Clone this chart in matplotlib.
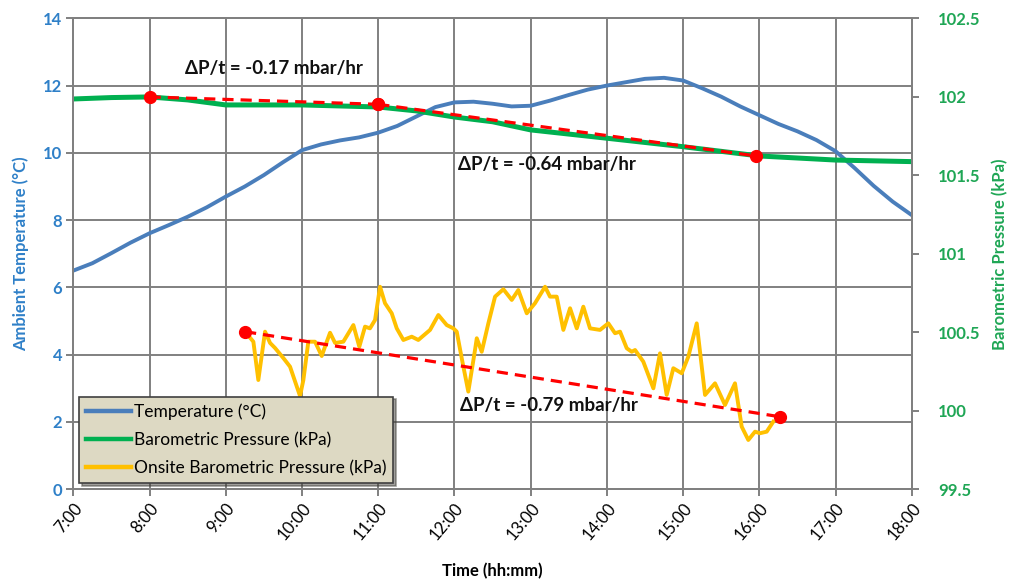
import numpy as np
import matplotlib
matplotlib.use("Agg")
import matplotlib.pyplot as plt
from matplotlib.lines import Line2D

plt.rcParams['font.family'] = ['Lato', 'DejaVu Sans']

# time in hours (7.0 = 7:00)
temp_t = [7.0, 7.25, 7.5, 7.75, 8.0, 8.25, 8.5, 8.75, 9.0, 9.25, 9.5, 9.75,
          10.0, 10.25, 10.5, 10.75, 11.0, 11.25, 11.5, 11.75, 12.0, 12.25, 12.5,
          12.75, 13.0, 13.25, 13.5, 13.75, 14.0, 14.25, 14.5, 14.75, 15.0, 15.25,
          15.5, 15.75, 16.0, 16.25, 16.5, 16.75, 17.0, 17.25, 17.5, 17.75, 18.0]
temp_c = [6.50, 6.72, 7.02, 7.33, 7.61, 7.85, 8.10, 8.38, 8.70, 9.00, 9.34, 9.72,
          10.08, 10.25, 10.37, 10.46, 10.60, 10.80, 11.08, 11.36, 11.50, 11.52, 11.46,
          11.38, 11.40, 11.55, 11.72, 11.88, 12.00, 12.10, 12.20, 12.23, 12.15, 11.92,
          11.67, 11.38, 11.12, 10.86, 10.64, 10.38, 10.05, 9.55, 9.02, 8.55, 8.15]

baro_t = [7.0, 7.5, 8.0, 8.5, 9.0, 10.0, 11.0, 11.5, 12.0, 12.5, 13.0, 14.0,
          15.0, 16.0, 17.0, 18.0]
baro_kpa = [101.986, 101.995, 101.999, 101.980, 101.948, 101.948, 101.935, 101.910,
            101.871, 101.841, 101.789, 101.736, 101.682, 101.623, 101.597, 101.587]

onsite_t = [9.253, 9.362, 9.427, 9.515, 9.581, 9.646, 9.755, 9.843, 9.974, 10.018,
            10.083, 10.171, 10.259, 10.325, 10.368, 10.434, 10.542, 10.674, 10.752,
            10.827, 10.892, 10.958, 11.024, 11.089, 11.177, 11.243, 11.330, 11.440,
            11.526, 11.680, 11.789, 11.899, 11.986, 12.030, 12.100, 12.182, 12.270,
            12.293, 12.358, 12.445, 12.533, 12.642, 12.752, 12.838, 12.949, 13.057,
            13.189, 13.254, 13.342, 13.429, 13.517, 13.605, 13.691, 13.779, 13.910,
            14.019, 14.107, 14.173, 14.261, 14.326, 14.370, 14.478, 14.610, 14.697,
            14.785, 14.872, 14.982, 15.069, 15.179, 15.288, 15.419, 15.550, 15.681,
            15.769, 15.856, 15.944, 16.009, 16.097, 16.184]
onsite_kpa = [100.504, 100.440, 100.196, 100.504, 100.432, 100.400, 100.336, 100.281,
              100.094, 100.196, 100.440, 100.440, 100.349, 100.440, 100.497, 100.432,
              100.440, 100.546, 100.408, 100.536, 100.525, 100.578, 100.790, 100.685,
              100.621, 100.525, 100.451, 100.472, 100.451, 100.515, 100.610, 100.546,
              100.525, 100.504, 100.324, 100.122, 100.387, 100.462, 100.376, 100.557,
              100.727, 100.774, 100.706, 100.769, 100.621, 100.685, 100.790, 100.727,
              100.727, 100.515, 100.653, 100.525, 100.663, 100.525, 100.515, 100.557,
              100.494, 100.504, 100.398, 100.376, 100.387, 100.313, 100.143, 100.366,
              100.101, 100.271, 100.239, 100.345, 100.557, 100.101, 100.175, 100.037,
              100.175, 99.899, 99.814, 99.867, 99.857, 99.867, 99.931]

# trend lines (time, kPa)
trend1_t, trend1_kpa = [8.0, 11.0], [101.999, 101.952]
trend2_t, trend2_kpa = [11.0, 15.957], [101.952, 101.623]
trend3_t, trend3_kpa = [9.253, 16.27], [100.504, 99.962]

labels = ['ΔP/t = -0.17 mbar/hr', 'ΔP/t = -0.64 mbar/hr', 'ΔP/t = -0.79 mbar/hr']
label_pos = [(9.63, 12.52), (13.21, 9.64), (13.24, 2.48)]

hours = list(range(7, 19))
hour_labels = ['%d:00' % h for h in hours]

blue_txt = '#2F80C8'
green_txt = '#1FA655'
grid_c = '#808080'

fig = plt.figure(figsize=(10.09, 5.82), dpi=100)
ax = fig.add_axes([0.0727, 0.1593, 0.8309, 0.8093])
ax2 = ax.twinx()

ax.plot(temp_t, temp_c, color='#4A7EBB', lw=2.8, solid_capstyle='round',
        solid_joinstyle='round')
ax2.plot(baro_t, baro_kpa, color='#00B050', lw=3.6, solid_joinstyle='round')
ax2.plot(onsite_t, onsite_kpa, color='#FFC000', lw=2.8, solid_joinstyle='round')
for tt, pp in [(trend1_t, trend1_kpa), (trend2_t, trend2_kpa), (trend3_t, trend3_kpa)]:
    ax2.plot(tt, pp, color='#FF0000', lw=2.3, ls=(0, (3.5, 2.2)),
             marker='o', ms=8.5, markevery=[0, 1])

ax.set_xlim(7, 18)
ax.set_ylim(0, 14)
ax2.set_ylim(99.5, 102.5)
ax.set_xticks(hours)
ax.set_xticklabels(hour_labels, rotation=50, ha='right', va='top',
                   rotation_mode='anchor', fontsize=12)
ax.set_yticks(range(0, 15, 2))
ax.set_yticklabels([str(v) for v in range(0, 15, 2)], color=blue_txt,
                   fontsize=12, fontweight='bold')
ax2.set_yticks(np.arange(99.5, 102.51, 0.5))
ax2.set_yticklabels(['99.5', '100', '100.5', '101', '101.5', '102', '102.5'],
                    color=green_txt, fontsize=12, fontweight='bold')

ax.grid(True, color=grid_c, lw=1.4)
ax.set_axisbelow(True)
for a in (ax, ax2):
    for s in a.spines.values():
        s.set_color(grid_c)
        s.set_linewidth(1.4)
ax.tick_params(axis='both', direction='out', length=5, width=1.4, color=grid_c, pad=3)
ax2.tick_params(axis='y', direction='out', length=5, width=1.4, color=grid_c, pad=14)

ax.set_xlabel('Time (hh:mm)', fontsize=12, fontweight='bold', labelpad=14)
ax.set_ylabel('Ambient Temperature (°C)', fontsize=12, fontweight='bold',
              color=blue_txt, labelpad=10)
ax2.set_ylabel('Barometric Pressure (kPa)', fontsize=12, fontweight='bold',
               color=green_txt, labelpad=8)

for txt, (x, y) in zip(labels, label_pos):
    ax.text(x, y, txt, ha='center', va='center', fontsize=13.5, fontweight='bold',
            color='#111111', zorder=5)

handles = [Line2D([], [], color='#4A7EBB', lw=3.2),
           Line2D([], [], color='#00B050', lw=3.2),
           Line2D([], [], color='#FFC000', lw=3.2)]
leg = ax2.legend(handles, ['Temperature (°C)', 'Barometric Pressure (kPa)',
                           'Onsite Barometric Pressure (kPa)'],
                 loc='lower left', bbox_to_anchor=(0.0068, 0.0134), borderaxespad=0,
                 fontsize=12.5, handlelength=2.6, handletextpad=0.15,
                 labelspacing=0.68, borderpad=0.4, fancybox=False, shadow=True,
                 framealpha=1, facecolor='#DDD9C3', edgecolor='#404040')
leg.get_frame().set_linewidth(1.2)

fig.savefig('out.png', dpi=100)
